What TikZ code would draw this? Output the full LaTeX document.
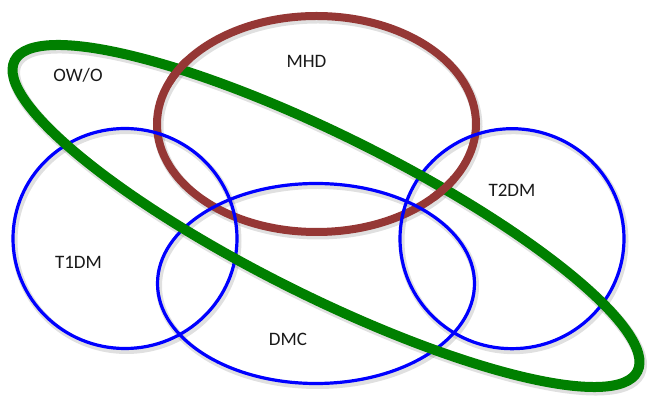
\documentclass[tikz,border=0pt]{standalone}
\usepackage{fontspec}
\setmainfont{Carlito}
\definecolor{venngreen}{RGB}{0,128,0}
\definecolor{vennbrown}{RGB}{149,55,53}
\definecolor{vennblue}{RGB}{0,0,255}
\begin{document}
\begin{tikzpicture}[x=1pt,y=1pt,
  setlabel/.style={font=\fontsize{19}{23}\selectfont, text=black!90, inner sep=0pt},
  blue ring/.style={draw=vennblue, line width=3.2},
  green ring/.style={draw=venngreen, line width=10},
  brown ring/.style={draw=vennbrown, line width=8},
  ring shadow/.style={draw=black, draw opacity=0.12, line width=#1}]
\useasboundingbox (0,0) rectangle (647,398);

% soft drop shadows under every ring
\begin{scope}[shift={(1.5,-2.5)}]
  \draw[ring shadow=6] (125,159.5) ellipse [x radius=112, y radius=110];
  \draw[ring shadow=6] (316,114.5) ellipse [x radius=158.5, y radius=100];
  \draw[ring shadow=6] (512,159.3) ellipse [x radius=112, y radius=110];
  \draw[ring shadow=12, rotate around={-26.5:(326,182)}] (326,182) ellipse [x radius=348, y radius=80];
  \draw[ring shadow=10] (316.5,274) ellipse [x radius=159.5, y radius=108];
\end{scope}

% MHD
\draw[brown ring] (316.5,274) ellipse [x radius=159.5, y radius=108];

% T1DM, DMC, T2DM
\draw[blue ring] (125,159.5) ellipse [x radius=112, y radius=110];
\draw[blue ring] (316,114.5) ellipse [x radius=158.5, y radius=100];
\draw[blue ring] (512,159.3) ellipse [x radius=112, y radius=110];

% OW/O
\draw[green ring, rotate around={-26.5:(326,182)}] (326,182) ellipse [x radius=348, y radius=80];

% MHD passes over OW/O where the two cross
\begin{scope}
  \clip (181,326) circle (15) (443,210) circle (15);
  \draw[brown ring] (316.5,274) ellipse [x radius=159.5, y radius=108];
\end{scope}

% set names
\node[setlabel] (owo)  at (78,322.5)  {OW/O};
\node[setlabel] (mhd)  at (306.5,336.5) {MHD};
\node[setlabel] (tone) at (78.5,135.5) {T1DM};
\node[setlabel] (dmc)  at (288,58.5)  {DMC};
\node[setlabel] (ttwo) at (512,208)   {T2DM};
\end{tikzpicture}
\end{document}
